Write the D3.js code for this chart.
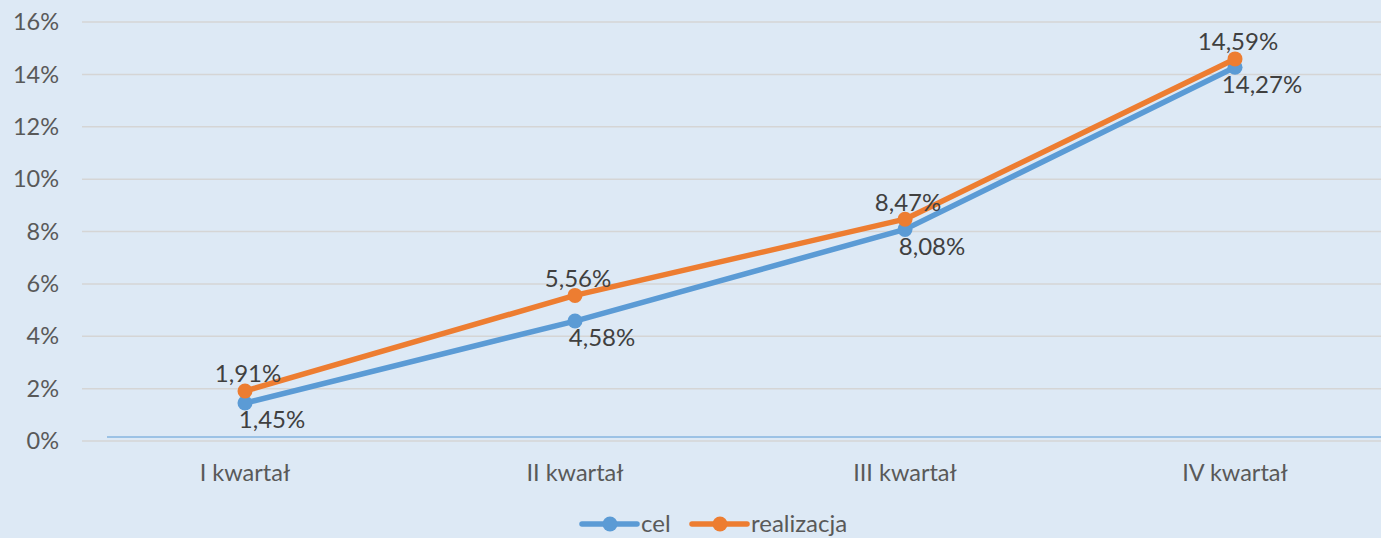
<!DOCTYPE html>
<html><head><meta charset="utf-8">
<script src="https://cdn.jsdelivr.net/npm/d3@7"></script>
<style>html,body{margin:0;padding:0;background:#dde9f5;overflow:hidden}</style>
</head><body>
<svg id="c" width="1381" height="538"></svg>
<script>
const categories = ["I kwartał","II kwartał","III kwartał","IV kwartał"];
const cel = [1.45, 4.58, 8.08, 14.27];
const realizacja = [1.91, 5.56, 8.47, 14.59];
const yTicks = [0,2,4,6,8,10,12,14,16];
const seriesNames = ["cel","realizacja"];
const colors = ["#5b9bd5","#ed7d31"];

const svg = d3.select("#c");
svg.append("rect").attr("width",1381).attr("height",538).attr("fill","#dde9f5");
const x = d3.scaleBand().domain(categories).range([80,1400]);
const y = d3.scaleLinear().domain([0,16]).range([441,22]);
const font = "Lato, 'Open Sans', sans-serif";

svg.append("g").selectAll("line").data(yTicks).join("line")
  .attr("x1",82).attr("x2",1381).attr("y1",d=>y(d)).attr("y2",d=>y(d))
  .attr("stroke","#d5d5d5").attr("stroke-width",1.5);
svg.append("g").selectAll("text").data(yTicks).join("text")
  .attr("x",59).attr("y",d=>y(d)).attr("dy","0.35em").attr("text-anchor","end")
  .attr("font-family",font).attr("font-size",23.5).attr("fill","#595959")
  .text(d=>d+"%");
svg.append("line").attr("x1",107).attr("x2",1381).attr("y1",437).attr("y2",437)
  .attr("stroke","#5b9bd5").attr("stroke-width",1);
svg.append("g").selectAll("text").data(categories).join("text")
  .attr("x",d=>x(d)+x.bandwidth()/2).attr("y",473).attr("dy","0.35em").attr("text-anchor","middle")
  .attr("font-family",font).attr("font-size",23.5).attr("fill","#595959").text(d=>d);

const series = [cel, realizacja];
const line = d3.line().x((d,i)=>x(categories[i])+x.bandwidth()/2).y(d=>y(d));
series.forEach((s,k)=>{
  svg.append("path").attr("d",line(s)).attr("fill","none").attr("stroke",colors[k])
    .attr("stroke-width",5.5).attr("stroke-linejoin","round").attr("stroke-linecap","round");
  svg.append("g").selectAll("circle").data(s).join("circle")
    .attr("cx",(d,i)=>x(categories[i])+x.bandwidth()/2).attr("cy",d=>y(d)).attr("r",7.5)
    .attr("fill",colors[k]);
});
const fmt = v => v.toFixed(2).replace(".",",")+"%";
svg.append("g").selectAll("text").data(cel).join("text")
  .attr("x",(d,i)=>x(categories[i])+x.bandwidth()/2+27).attr("y",d=>y(d)+17).attr("dy","0.35em")
  .attr("text-anchor","middle").attr("font-family",font).attr("font-size",24).attr("fill","#404040")
  .text(fmt);
svg.append("g").selectAll("text").data(realizacja).join("text")
  .attr("x",(d,i)=>x(categories[i])+x.bandwidth()/2+3).attr("y",d=>y(d)-17).attr("dy","0.35em")
  .attr("text-anchor","middle").attr("font-family",font).attr("font-size",24).attr("fill","#404040")
  .text(fmt);

const legX = [582, 692];
seriesNames.forEach((n,k)=>{
  const g = svg.append("g");
  g.append("line").attr("x1",legX[k]).attr("x2",legX[k]+55).attr("y1",524).attr("y2",524)
    .attr("stroke",colors[k]).attr("stroke-width",5.5).attr("stroke-linecap","round");
  g.append("circle").attr("cx",legX[k]+28).attr("cy",524).attr("r",7.5).attr("fill",colors[k]);
  g.append("text").attr("x",legX[k]+59).attr("y",524).attr("dy","0.35em")
    .attr("font-family",font).attr("font-size",24).attr("fill","#595959").text(n);
});
</script>
</body></html>
